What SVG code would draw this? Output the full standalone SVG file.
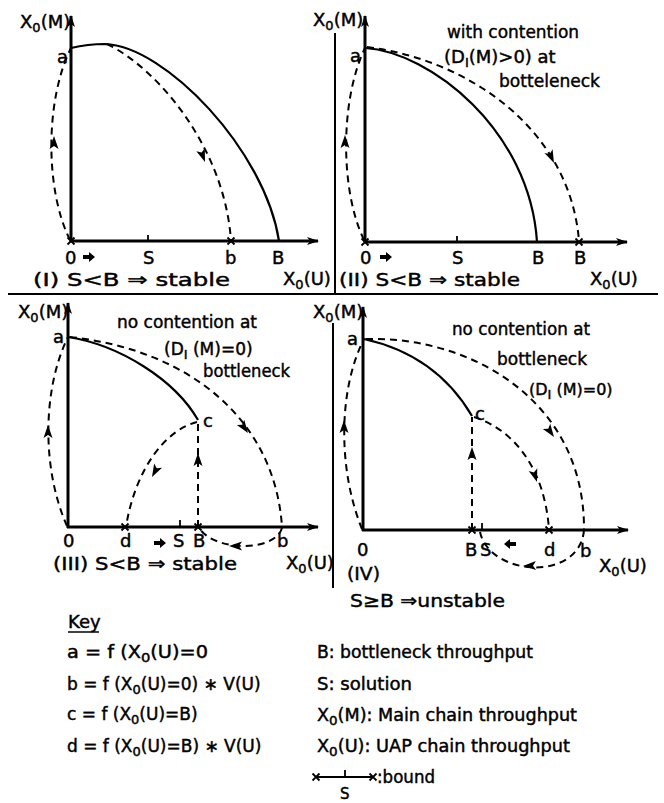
<svg xmlns="http://www.w3.org/2000/svg" xmlns:xlink="http://www.w3.org/1999/xlink" width="664" height="803" viewBox="0 0 664 803">
<style>
.t{font-family:"DejaVu Sans","Liberation Sans",sans-serif;font-size:18px;fill:#000;stroke:#000;stroke-width:0.45}
.k{font-size:17px}
.ax{stroke:#000;stroke-width:3;fill:none}
.sol{stroke:#000;stroke-width:2.2;fill:none}
.dsh{stroke:#000;stroke-width:2;fill:none;stroke-dasharray:7 5}
.sep{stroke:#000;stroke-width:2;fill:none}
.mk{stroke:#000;stroke-width:1.8;fill:none}
.sub{font-size:13px}
</style>
<defs>
<marker id="axArr" viewBox="0 0 12 8" refX="11" refY="4" markerWidth="12" markerHeight="8" orient="auto" markerUnits="userSpaceOnUse">
<path d="M0,0 L12,4 L0,8 L3,4 Z" fill="#000"/>
</marker>
<path id="ah" d="M0,0 L-13,-4.5 L-10,0 L-13,4.5 Z" fill="#000"/>
<path id="blk" d="M-6,-2 L0,-2 L0,-5 L6,0 L0,5 L0,2 L-6,2 Z" fill="#000"/>
<path id="xm" d="M-3.5,-3.5 L3.5,3.5 M-3.5,3.5 L3.5,-3.5" class="mk"/>
</defs>
<rect width="664" height="803" fill="#fff"/>

<g id="separators">
<line class="sep" x1="8" y1="294" x2="658" y2="294"/>
<line class="sep" x1="335" y1="33" x2="335" y2="294"/>
<line class="sep" x1="333" y1="323" x2="333" y2="588"/>
</g>

<g id="panel1">
<path class="ax" d="M71,242 L71,16" marker-end="url(#axArr)"/>
<path class="ax" d="M70,241 L318,241" marker-end="url(#axArr)"/>
<path class="sol" d="M71,48 Q88,44 105,44 C165,46 265,150 279,241"/>
<line class="mk" x1="148" y1="235" x2="148" y2="241"/>
<use href="#xm" x="231" y="241"/>
<use href="#xm" x="71" y="241"/>
<use href="#blk" transform="translate(89,257)"/>
<text class="t" x="20" y="28">X<tspan class="sub" dy="4">0</tspan><tspan dy="-4">(M)</tspan></text>
<text class="t" x="57" y="63">a</text>
<text class="t" x="65" y="264">0</text>
<text class="t" x="143" y="264">S</text>
<text class="t" x="225" y="264">b</text>
<text class="t" x="272" y="264">B</text>
<text class="t" x="33" y="286" textLength="197" lengthAdjust="spacingAndGlyphs">(I) S&lt;B ⇒ stable</text>
<text class="t" x="283" y="285">X<tspan class="sub" dy="4">0</tspan><tspan dy="-4">(U)</tspan></text>
</g>

<g id="panel2">
<path class="ax" d="M365,242 L365,16" marker-end="url(#axArr)"/>
<path class="ax" d="M364,242 L627,242" marker-end="url(#axArr)"/>
<path class="sol" d="M365,48 C430,52 530,130 537,242"/>
<line class="mk" x1="457" y1="236" x2="457" y2="242"/>
<use href="#xm" x="579" y="242"/>
<use href="#xm" x="365" y="242"/>
<use href="#blk" transform="translate(386,257)"/>
<text class="t" x="313" y="26">X<tspan class="sub" dy="4">0</tspan><tspan dy="-4">(M)</tspan></text>
<text class="t" x="350" y="62">a</text>
<text class="t" x="360" y="264">0</text>
<text class="t" x="452" y="264">S</text>
<text class="t" x="532" y="264">B</text>
<text class="t" x="574" y="264">B</text>
<text class="t" x="339" y="286" textLength="181" lengthAdjust="spacingAndGlyphs">(II) S&lt;B ⇒ stable</text>
<text class="t" x="590" y="285">X<tspan class="sub" dy="4">0</tspan><tspan dy="-4">(U)</tspan></text>
<text class="t" x="447" y="38" textLength="132" lengthAdjust="spacingAndGlyphs">with contention</text>
<text class="t" x="444" y="63">(D<tspan class="sub" dy="4">I</tspan><tspan dy="-4">(M)&gt;0) at</tspan></text>
<text class="t" x="499" y="87" textLength="101" lengthAdjust="spacingAndGlyphs">botteleneck</text>
</g>

<g id="panel3">
<path class="ax" d="M68,528 L68,303" marker-end="url(#axArr)"/>
<path class="ax" d="M67,527 L318,527" marker-end="url(#axArr)"/>
<path class="sol" d="M68,337 C120,345 175,380 198,420"/>
<line class="mk" x1="180" y1="520" x2="180" y2="527"/>
<use href="#xm" x="125" y="527"/>
<use href="#xm" x="198" y="527"/>
<use href="#blk" transform="translate(160,543)"/>
<text class="t" x="18" y="318">X<tspan class="sub" dy="4">0</tspan><tspan dy="-4">(M)</tspan></text>
<text class="t" x="53" y="343">a</text>
<text class="t" x="203" y="427">c</text>
<text class="t" x="63" y="547">0</text>
<text class="t" x="120" y="547">d</text>
<text class="t" x="173" y="547">S</text>
<text class="t" x="193" y="547">B</text>
<text class="t" x="277" y="547">b</text>
<text class="t" x="286" y="569">X<tspan class="sub" dy="4">0</tspan><tspan dy="-4">(U)</tspan></text>
<text class="t" x="53" y="570" textLength="184" lengthAdjust="spacingAndGlyphs">(III) S&lt;B  ⇒ stable</text>
<text class="t" x="117" y="328" textLength="140" lengthAdjust="spacingAndGlyphs">no contention at</text>
<text class="t" x="164" y="355" style="font-size:17px">(D<tspan class="sub" dy="4">I</tspan><tspan dy="-4"> (M)=0)</tspan></text>
<text class="t" x="203" y="377" textLength="87" lengthAdjust="spacingAndGlyphs">bottleneck</text>
</g>

<g id="panel4">
<path class="ax" d="M363,531 L363,307" marker-end="url(#axArr)"/>
<path class="ax" d="M362,530 L628,530" marker-end="url(#axArr)"/>
<path class="sol" d="M364,339 C405,348 445,370 472,416"/>
<line class="mk" x1="482" y1="523" x2="482" y2="530"/>
<use href="#xm" x="472" y="530"/>
<use href="#xm" x="549" y="530"/>
<use href="#blk" transform="translate(510,544) rotate(180)"/>
<text class="t" x="313" y="318">X<tspan class="sub" dy="4">0</tspan><tspan dy="-4">(M)</tspan></text>
<text class="t" x="347" y="345">a</text>
<text class="t" x="475" y="420">c</text>
<text class="t" x="357" y="556">0</text>
<text class="t" x="465" y="556">B</text>
<text class="t" x="480" y="556">S</text>
<text class="t" x="544" y="556">d</text>
<text class="t" x="580" y="557">b</text>
<text class="t" x="599" y="572">X<tspan class="sub" dy="4">0</tspan><tspan dy="-4">(U)</tspan></text>
<text class="t" x="347" y="580" textLength="33" lengthAdjust="spacingAndGlyphs">(IV)</text>
<text class="t" x="350" y="607" textLength="155" lengthAdjust="spacingAndGlyphs">S≥B ⇒unstable</text>
<text class="t" x="452" y="335" textLength="138" lengthAdjust="spacingAndGlyphs">no contention at</text>
<text class="t" x="497" y="365" textLength="90" lengthAdjust="spacingAndGlyphs">bottleneck</text>
<text class="t" x="529" y="395" style="font-size:16px">(D<tspan class="sub" dy="4">I</tspan><tspan dy="-4"> (M)=0)</tspan></text>
</g>

<g id="connectors">
<path class="dsh" d="M70,240 C45,190 45,100 71,48"/>
<path class="dsh" d="M107,44 C160,70 225,150 231,241"/>
<use href="#ah" transform="translate(54,136) rotate(-90)"/>
<use href="#ah" transform="translate(205,162) rotate(70)"/>

<path class="dsh" d="M364,240 C340,190 340,100 365,48"/>
<path class="dsh" d="M367,47 C470,60 570,130 579,241"/>
<use href="#ah" transform="translate(345,135) rotate(-90)"/>
<use href="#ah" transform="translate(554,163) rotate(65)"/>

<path class="dsh" d="M67,526 C42,470 42,390 68,337"/>
<path class="dsh" d="M70,337 C190,350 275,420 282,527"/>
<path class="dsh" d="M198,527 L198,420"/>
<path class="dsh" d="M197,422 C165,430 135,470 126,527"/>
<path class="dsh" d="M282,528 C275,552 215,552 199,528"/>
<use href="#ah" transform="translate(48,425) rotate(-90)"/>
<use href="#ah" transform="translate(248,433) rotate(55)"/>
<use href="#ah" transform="translate(198,453) rotate(-90)"/>
<use href="#ah" transform="translate(152,477) rotate(118)"/>
<use href="#ah" transform="translate(229,546) rotate(180)"/>

<path class="dsh" d="M362,529 C338,470 338,390 364,339"/>
<path class="dsh" d="M366,339 C470,336 585,400 584,530"/>
<path class="dsh" d="M472,530 L472,417"/>
<path class="dsh" d="M474,417 C515,430 545,470 549,530"/>
<path class="dsh" d="M584,530 C580,582 490,577 480,532"/>
<use href="#ah" transform="translate(344,420) rotate(-90)"/>
<use href="#ah" transform="translate(554,437) rotate(55)"/>
<use href="#ah" transform="translate(472,447) rotate(-90)"/>
<use href="#ah" transform="translate(537,482) rotate(72)"/>
<use href="#ah" transform="translate(523,566) rotate(178)"/>
</g>

<g id="key">
<text class="t" x="68" y="628">Key</text>
<line x1="68" y1="632" x2="99" y2="632" stroke="#000" stroke-width="1.5"/>
<text class="t k" x="67" y="658" textLength="141" lengthAdjust="spacingAndGlyphs">a = f (X<tspan class="sub" dy="4">0</tspan><tspan dy="-4">(U)=0</tspan></text>
<text class="t k" x="67" y="690">b = f (X<tspan class="sub" dy="4">0</tspan><tspan dy="-4">(U)=0) ∗ V(U)</tspan></text>
<text class="t k" x="67" y="720">c = f (X<tspan class="sub" dy="4">0</tspan><tspan dy="-4">(U)=B)</tspan></text>
<text class="t k" x="67" y="752">d = f (X<tspan class="sub" dy="4">0</tspan><tspan dy="-4">(U)=B) ∗ V(U)</tspan></text>
<text class="t k" x="317" y="658" textLength="216" lengthAdjust="spacingAndGlyphs">B: bottleneck throughput</text>
<text class="t k" x="317" y="690" textLength="95" lengthAdjust="spacingAndGlyphs">S: solution</text>
<text class="t k" x="317" y="721" textLength="260" lengthAdjust="spacingAndGlyphs">X<tspan class="sub" dy="4">0</tspan><tspan dy="-4">(M): Main chain throughput</tspan></text>
<text class="t k" x="317" y="752" textLength="253" lengthAdjust="spacingAndGlyphs">X<tspan class="sub" dy="4">0</tspan><tspan dy="-4">(U): UAP chain throughput</tspan></text>
<line x1="316" y1="777" x2="373" y2="777" stroke="#000" stroke-width="2"/>
<use href="#xm" x="316" y="777"/>
<use href="#xm" x="373" y="777"/>
<line class="mk" x1="345" y1="770" x2="345" y2="777"/>
<text class="t" x="340" y="799" style="font-size:15px">S</text>
<text class="t k" x="377" y="783" textLength="58" lengthAdjust="spacingAndGlyphs">:bound</text>
</g>
</svg>
